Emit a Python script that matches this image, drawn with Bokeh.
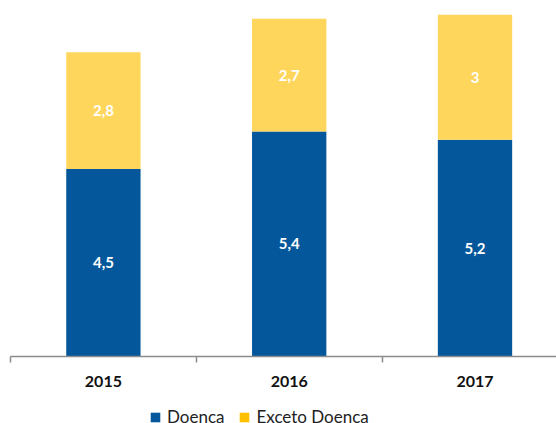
from bokeh.plotting import figure
from bokeh.models import (ColumnDataSource, Range1d, FixedTicker, Legend, LegendItem, LabelSet)
from bokeh.layouts import column
from bokeh.core.properties import value
from bokeh.embed import file_html
from bokeh.resources import INLINE

years = ["2015", "2016", "2017"]
doenca = [4.5, 5.4, 5.2]
exceto = [2.8, 2.7, 3.0]

BLUE = "#03579A"
YELLOW = "#FFD65C"
YELLOW_LEG = "#FFC000"

xs = [i + 0.5 for i in range(len(years))]
tops = [a + b for a, b in zip(doenca, exceto)]

def fmt(v):
    return ("%g" % v).replace(".", ",")

src = ColumnDataSource(dict(
    x=xs, doenca=doenca, exceto=exceto, top=tops,
    mid_d=[d / 2 for d in doenca],
    mid_e=[d + e / 2 for d, e in zip(doenca, exceto)],
    lab_d=[fmt(v) for v in doenca],
    lab_e=[fmt(v) for v in exceto],
))

p = figure(width=556, height=398, output_backend="svg", toolbar_location=None,
           x_range=Range1d(0, 546 / 185.8), y_range=Range1d(0, 8.54),
           min_border_left=10, min_border_right=0, min_border_top=0, min_border_bottom=42)
p.outline_line_color = None
p.grid.visible = False
p.yaxis.visible = False

p.vbar(x="x", bottom=0, top="doenca", width=0.4, source=src, color=BLUE, line_color=None)
p.vbar(x="x", bottom="doenca", top="top", width=0.4, source=src, color=YELLOW, line_color=None)

for col_y, col_t in (("mid_d", "lab_d"), ("mid_e", "lab_e")):
    p.add_layout(LabelSet(x="x", y=col_y, text=col_t, source=src, text_color="white",
                          text_font=value("Lato"), text_font_style="bold", text_font_size="15px",
                          text_align="center", text_baseline="middle"))

ax = p.xaxis[0]
ax.ticker = FixedTicker(ticks=xs, minor_ticks=[0, 1, 2])
ax.major_label_overrides = {x: y for x, y in zip(xs, years)}
ax.major_tick_line_color = None
ax.major_tick_out = 0
ax.major_tick_in = 0
ax.minor_tick_out = 6
ax.minor_tick_in = 0
ax.minor_tick_line_color = "#8C8C8C"
ax.minor_tick_line_width = 1.5
ax.axis_line_color = "#8C8C8C"
ax.axis_line_width = 1.5
ax.major_label_standoff = 13
ax.major_label_text_font = "Lato"
ax.major_label_text_font_style = "bold"
ax.major_label_text_font_size = "16px"
ax.major_label_text_color = "#111111"

# legend figure
q = figure(width=556, height=25, output_backend="svg", toolbar_location=None,
           x_range=Range1d(0, 1), y_range=Range1d(0, 1),
           min_border_left=0, min_border_right=0, min_border_top=0, min_border_bottom=0)
q.outline_line_color = None
q.grid.visible = False
q.axis.visible = False
leg_src = ColumnDataSource(dict(x=[0.5], top=[0.0]))
rb = q.vbar(x="x", bottom=0, top="top", width=0.01, source=leg_src, color=BLUE, line_color=None)
ry = q.vbar(x="x", bottom=0, top="top", width=0.01, source=leg_src, color=YELLOW_LEG, line_color=None)
legend = Legend(items=[LegendItem(label="Doenca", renderers=[rb]),
                       LegendItem(label="Exceto Doenca", renderers=[ry])],
                orientation="horizontal", location=(139, -4),
                glyph_width=12, glyph_height=12, label_height=10,
                label_standoff=6, spacing=14, padding=0, margin=0,
                border_line_color=None, background_fill_alpha=0,
                label_text_font="Lato", label_text_font_size="17px",
                label_text_color="#222222")
q.add_layout(legend, "center")

open("out.html", "w").write(file_html(column(p, q, spacing=0), INLINE))
